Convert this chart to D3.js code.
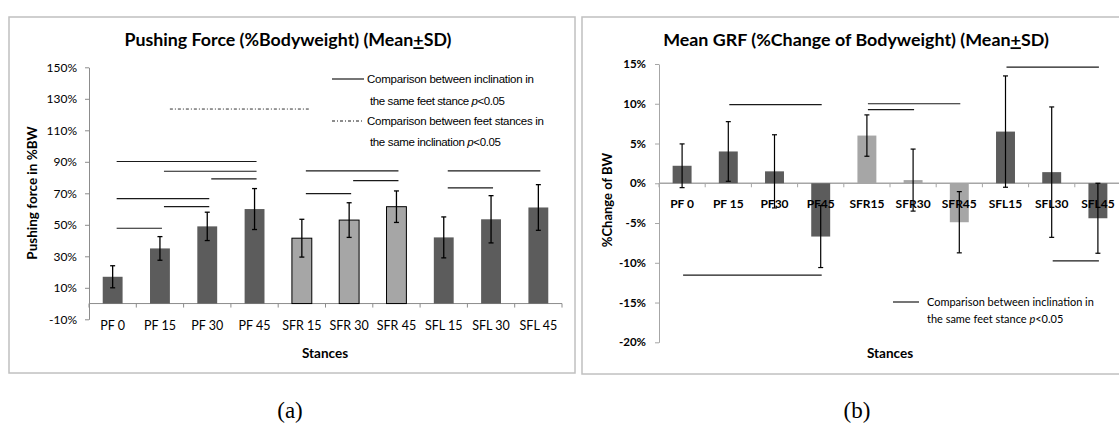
<!DOCTYPE html>
<html>
<head>
<meta charset="utf-8">
<script src="https://cdn.jsdelivr.net/npm/d3@7"></script>
<style>
  body { margin: 0; background: #fff; }
  svg { display: block; }
</style>
</head>
<body>
<svg id="chart" width="1119" height="423"></svg>
<script>
// ---- (a) Pushing force, % body weight ----
const stancesA = ["PF 0", "PF 15", "PF 30", "PF 45", "SFR 15", "SFR 30", "SFR 45", "SFL 15", "SFL 30", "SFL 45"];
const pushMean = [17, 35, 49, 60, 41.5, 53, 61.5, 42, 53.5, 61];
const pushSD = [7, 7.5, 9, 13, 12, 11, 10, 13, 15, 14.5];
const pushTicks = [-10, 10, 30, 50, 70, 90, 110, 130, 150];
// significant pairs: [from, to, bracket level in %]
const pushSigInclination = [
  ["PF 0", "PF 45", 90.2], ["PF 15", "PF 45", 84], ["PF 30", "PF 45", 79.2],
  ["PF 0", "PF 30", 66.6], ["PF 15", "PF 30", 61.6], ["PF 0", "PF 15", 47.8],
  ["SFR 15", "SFR 45", 84.3], ["SFR 30", "SFR 45", 78], ["SFR 15", "SFR 30", 69.8],
  ["SFL 15", "SFL 45", 84.3], ["SFL 15", "SFL 30", 73.4]
];
const pushSigStance = [["PF 15", "SFR 15", 123.5]];

// ---- (b) Mean GRF, % change of body weight ----
const stancesB = ["PF 0", "PF 15", "PF30", "PF45", "SFR15", "SFR30", "SFR45", "SFL15", "SFL30", "SFL45"];
const grfMean = [2.2, 4.0, 1.5, -6.7, 6.0, 0.4, -4.9, 6.5, 1.4, -4.4];
const grfSD = [2.75, 3.75, 4.6, 3.9, 2.6, 3.9, 3.85, 7.0, 8.2, 4.4];
const grfTicks = [-20, -15, -10, -5, 0, 5, 10, 15];
const grfSig = [
  ["PF 15", "PF45", 9.9], ["SFR15", "SFR45", 10], ["SFR15", "SFR30", 9.25],
  ["SFL15", "SFL45", 14.6], ["PF 0", "PF45", -11.55], ["SFL30", "SFL45", -9.75]
];

const DARK = "#5c5c5c", LIGHT = "#a6a6a6";
const isRight = s => s.startsWith("SFR");
const SANS = "Lato, 'Noto Sans', sans-serif";
const ARIAL = "'Liberation Sans', Arial, sans-serif";

const svg = d3.select("#chart");

// scale a text's font size so it spans the given width
function fitWidth(sel, w) {
  sel.each(function () {
    const fs = parseFloat(this.getAttribute("font-size"));
    const len = this.getComputedTextLength();
    if (len > 0) this.setAttribute("font-size", (fs * w / len).toFixed(2));
  });
  return sel;
}

function title(parent, cx, cy, main, w) {
  const t = parent.append("text")
    .attr("x", cx).attr("y", cy).attr("dy", "0.35em")
    .attr("text-anchor", "middle")
    .attr("font-family", SANS).attr("font-weight", 700).attr("font-size", 15)
    .attr("fill", "#000");
  t.append("tspan").text(main + " (Mean");
  t.append("tspan").attr("text-decoration", "underline").text("+");
  t.append("tspan").text("SD)");
  fitWidth(t, w);
}

// ================= panel (a) =================
const gA = svg.append("g");
gA.append("rect").attr("x", 9).attr("y", 17).attr("width", 566).attr("height", 356)
  .attr("fill", "none").attr("stroke", "#c0c0c0").attr("stroke-width", 1.5);

const xA = d3.scaleBand().domain(stancesA).range([89, 562]).paddingInner(0.58).paddingOuter(0.29);
const yA = d3.scaleLinear().domain([-10, 150]).range([319.3, 67.3]);
const bwA = xA.bandwidth();

title(gA, 288, 40, "Pushing Force (%Bodyweight)", 327);

// y axis
const axA = gA.append("g").attr("transform", "translate(89,0)")
  .call(d3.axisLeft(yA).tickValues(pushTicks).tickFormat(d => d + "%").tickSize(4).tickSizeOuter(0).tickPadding(8));
axA.select(".domain").attr("stroke", "#8c8c8c");
axA.selectAll(".tick line").attr("stroke", "#8c8c8c");
axA.selectAll(".tick text").attr("font-family", SANS).attr("font-size", 12).attr("fill", "#000");

// x axis at zero
const y0A = yA(0);
const stepA = xA.step();
gA.append("line").attr("x1", 89).attr("x2", 89 + stepA * stancesA.length)
  .attr("y1", y0A).attr("y2", y0A).attr("stroke", "#8c8c8c");
gA.selectAll(".xtickA").data(d3.range(stancesA.length + 1)).join("line")
  .attr("x1", i => 89 + i * stepA).attr("x2", i => 89 + i * stepA)
  .attr("y1", y0A).attr("y2", y0A + 4).attr("stroke", "#8c8c8c");

// bars
gA.selectAll(".barA").data(stancesA).join("rect")
  .attr("x", d => xA(d)).attr("width", bwA)
  .attr("y", (d, i) => yA(Math.max(0, pushMean[i])))
  .attr("height", (d, i) => Math.abs(yA(pushMean[i]) - y0A))
  .attr("fill", d => isRight(d) ? LIGHT : DARK)
  .attr("stroke", d => isRight(d) ? "#000" : "none").attr("stroke-width", 1);

// x labels
gA.selectAll(".xlabA").data(stancesA).join("text")
  .attr("x", d => xA(d) + bwA / 2).attr("y", 326).attr("dy", "0.35em")
  .attr("text-anchor", "middle").attr("font-family", SANS).attr("font-size", 12.5).attr("fill", "#000")
  .text(d => d);

// error bars
function errorBars(g, x, y, cats, mean, sd, bw, cap, sw) {
  const eb = g.append("g").attr("stroke", "#000").attr("stroke-width", sw);
  cats.forEach((c, i) => {
    const cx = x(c) + bw / 2, lo = y(mean[i] - sd[i]), hi = y(mean[i] + sd[i]);
    eb.append("line").attr("x1", cx).attr("x2", cx).attr("y1", lo).attr("y2", hi);
    eb.append("line").attr("x1", cx - cap).attr("x2", cx + cap).attr("y1", lo).attr("y2", lo);
    eb.append("line").attr("x1", cx - cap).attr("x2", cx + cap).attr("y1", hi).attr("y2", hi);
  });
}
errorBars(gA, xA, yA, stancesA, pushMean, pushSD, bwA, 2.5, 1.3);

// significance brackets
gA.selectAll(".sigA").data(pushSigInclination).join("line")
  .attr("x1", d => xA(d[0]) + bwA / 2 + 4).attr("x2", d => xA(d[1]) + bwA / 2 + 2)
  .attr("y1", d => yA(d[2])).attr("y2", d => yA(d[2]))
  .attr("stroke", "#1a1a1a").attr("stroke-width", 1.2);
gA.selectAll(".sigA2").data(pushSigStance).join("line")
  .attr("x1", d => xA(d[0]) + bwA).attr("x2", d => xA(d[1]) + bwA - 3)
  .attr("y1", d => yA(d[2])).attr("y2", d => yA(d[2]))
  .attr("stroke", "#333").attr("stroke-width", 1).attr("stroke-dasharray", "3,2,1,2");

// legend
function legendLine(g, x1, x2, y, dash) {
  g.append("line").attr("x1", x1).attr("x2", x2).attr("y1", y).attr("y2", y)
    .attr("stroke", "#1a1a1a").attr("stroke-width", dash ? 1 : 1.2)
    .attr("stroke-dasharray", dash || null);
}
function legendText(g, x, y, txt, pTail, family, size) {
  const t = g.append("text").attr("x", x).attr("y", y).attr("dy", "0.35em")
    .attr("font-family", family).attr("font-size", size).attr("fill", "#000");
  t.append("tspan").text(txt);
  if (pTail) {
    t.append("tspan").attr("font-style", "italic").text("p");
    t.append("tspan").text("<0.05");
  }
  return t;
}
legendLine(gA, 332, 364, 79);
legendText(gA, 367, 79, "Comparison  between  inclination  in", false, ARIAL, 11.5)
  .attr("textLength", 167).attr("lengthAdjust", "spacing");
legendText(gA, 370, 100.7, "the same feet stance ", true, ARIAL, 11.5)
  .attr("textLength", 135).attr("lengthAdjust", "spacing");
legendLine(gA, 332, 364, 121, "3,2,1,2");
legendText(gA, 367, 121, "Comparison  between  feet  stances  in", false, ARIAL, 11.5)
  .attr("textLength", 177).attr("lengthAdjust", "spacing");
legendText(gA, 370, 141.7, "the same inclination ", true, ARIAL, 11.5)
  .attr("textLength", 131).attr("lengthAdjust", "spacing");

// axis titles
gA.append("text").attr("transform", "translate(32,193) rotate(-90)").attr("dy", "0.35em")
  .attr("text-anchor", "middle").attr("font-family", SANS).attr("font-weight", 700).attr("font-size", 13.5)
  .attr("fill", "#000").text("Pushing force in %BW");
gA.append("text").attr("x", 325).attr("y", 353).attr("dy", "0.35em")
  .attr("text-anchor", "middle").attr("font-family", SANS).attr("font-weight", 700).attr("font-size", 13.5)
  .attr("fill", "#000").text("Stances");

// ================= panel (b) =================
const gB = svg.append("g");
gB.append("rect").attr("x", 582).attr("y", 17).attr("width", 545).attr("height", 357)
  .attr("fill", "none").attr("stroke", "#c0c0c0").attr("stroke-width", 1.5);

const xB = d3.scaleBand().domain(stancesB).range([659, 1121]).paddingInner(0.59).paddingOuter(0.295);
const yB = d3.scaleLinear().domain([-20, 15]).range([342.3, 64]);
const bwB = xB.bandwidth();

title(gB, 856, 40, "Mean GRF (%Change of Bodyweight)", 386);

const axB = gB.append("g").attr("transform", "translate(659,0)")
  .call(d3.axisLeft(yB).tickValues(grfTicks).tickFormat(d => d + "%").tickSize(4).tickSizeOuter(0).tickPadding(9));
axB.select(".domain").attr("stroke", "#a6a6a6");
axB.selectAll(".tick line").attr("stroke", "#a6a6a6");
axB.selectAll(".tick text").attr("font-family", SANS).attr("font-weight", 700).attr("font-size", 11.5).attr("fill", "#000");

const y0B = yB(0);
const stepB = xB.step();
gB.append("line").attr("x1", 659).attr("x2", 659 + stepB * stancesB.length)
  .attr("y1", y0B).attr("y2", y0B).attr("stroke", "#a6a6a6").attr("stroke-width", 1.5);
gB.selectAll(".xtickB").data(d3.range(stancesB.length + 1)).join("line")
  .attr("x1", i => 659 + i * stepB).attr("x2", i => 659 + i * stepB)
  .attr("y1", y0B).attr("y2", y0B + 4).attr("stroke", "#a6a6a6");

gB.selectAll(".barB").data(stancesB).join("rect")
  .attr("x", d => xB(d)).attr("width", bwB)
  .attr("y", (d, i) => yB(Math.max(0, grfMean[i])))
  .attr("height", (d, i) => Math.abs(yB(grfMean[i]) - y0B))
  .attr("fill", d => isRight(d) ? LIGHT : DARK);

gB.selectAll(".xlabB").data(stancesB).join("text")
  .attr("x", d => xB(d) + bwB / 2).attr("y", 204).attr("dy", "0.35em")
  .attr("text-anchor", "middle").attr("font-family", SANS).attr("font-weight", 700).attr("font-size", 12)
  .attr("fill", "#000").text(d => d);

errorBars(gB, xB, yB, stancesB, grfMean, grfSD, bwB, 2.5, 1.2);

gB.selectAll(".sigB").data(grfSig).join("line")
  .attr("x1", d => xB(d[0]) + bwB / 2 + 1).attr("x2", d => xB(d[1]) + bwB / 2 + 1)
  .attr("y1", d => yB(d[2])).attr("y2", d => yB(d[2]))
  .attr("stroke", "#1a1a1a").attr("stroke-width", 1.2);

legendLine(gB, 893, 919, 302);
const legB1 = fitWidth(legendText(gB, 927, 302, "Comparison between inclination in", false, SANS, 11), 167);
legendText(gB, 927, 319, "the same feet stance ", true, SANS, legB1.attr("font-size"));

gB.append("text").attr("transform", "translate(607,200) rotate(-90)").attr("dy", "0.35em")
  .attr("text-anchor", "middle").attr("font-family", SANS).attr("font-weight", 700).attr("font-size", 13)
  .attr("fill", "#000").text("%Change of BW");
gB.append("text").attr("x", 890).attr("y", 353).attr("dy", "0.35em")
  .attr("text-anchor", "middle").attr("font-family", SANS).attr("font-weight", 700).attr("font-size", 13.5)
  .attr("fill", "#000").text("Stances");

// panel captions
svg.append("text").attr("x", 290).attr("y", 410).attr("dy", "0.35em").attr("text-anchor", "middle")
  .attr("font-family", "'Liberation Serif', 'Times New Roman', serif").attr("font-size", 23).text("(a)");
svg.append("text").attr("x", 857).attr("y", 410).attr("dy", "0.35em").attr("text-anchor", "middle")
  .attr("font-family", "'Liberation Serif', 'Times New Roman', serif").attr("font-size", 23).text("(b)");
</script>
</body>
</html>
